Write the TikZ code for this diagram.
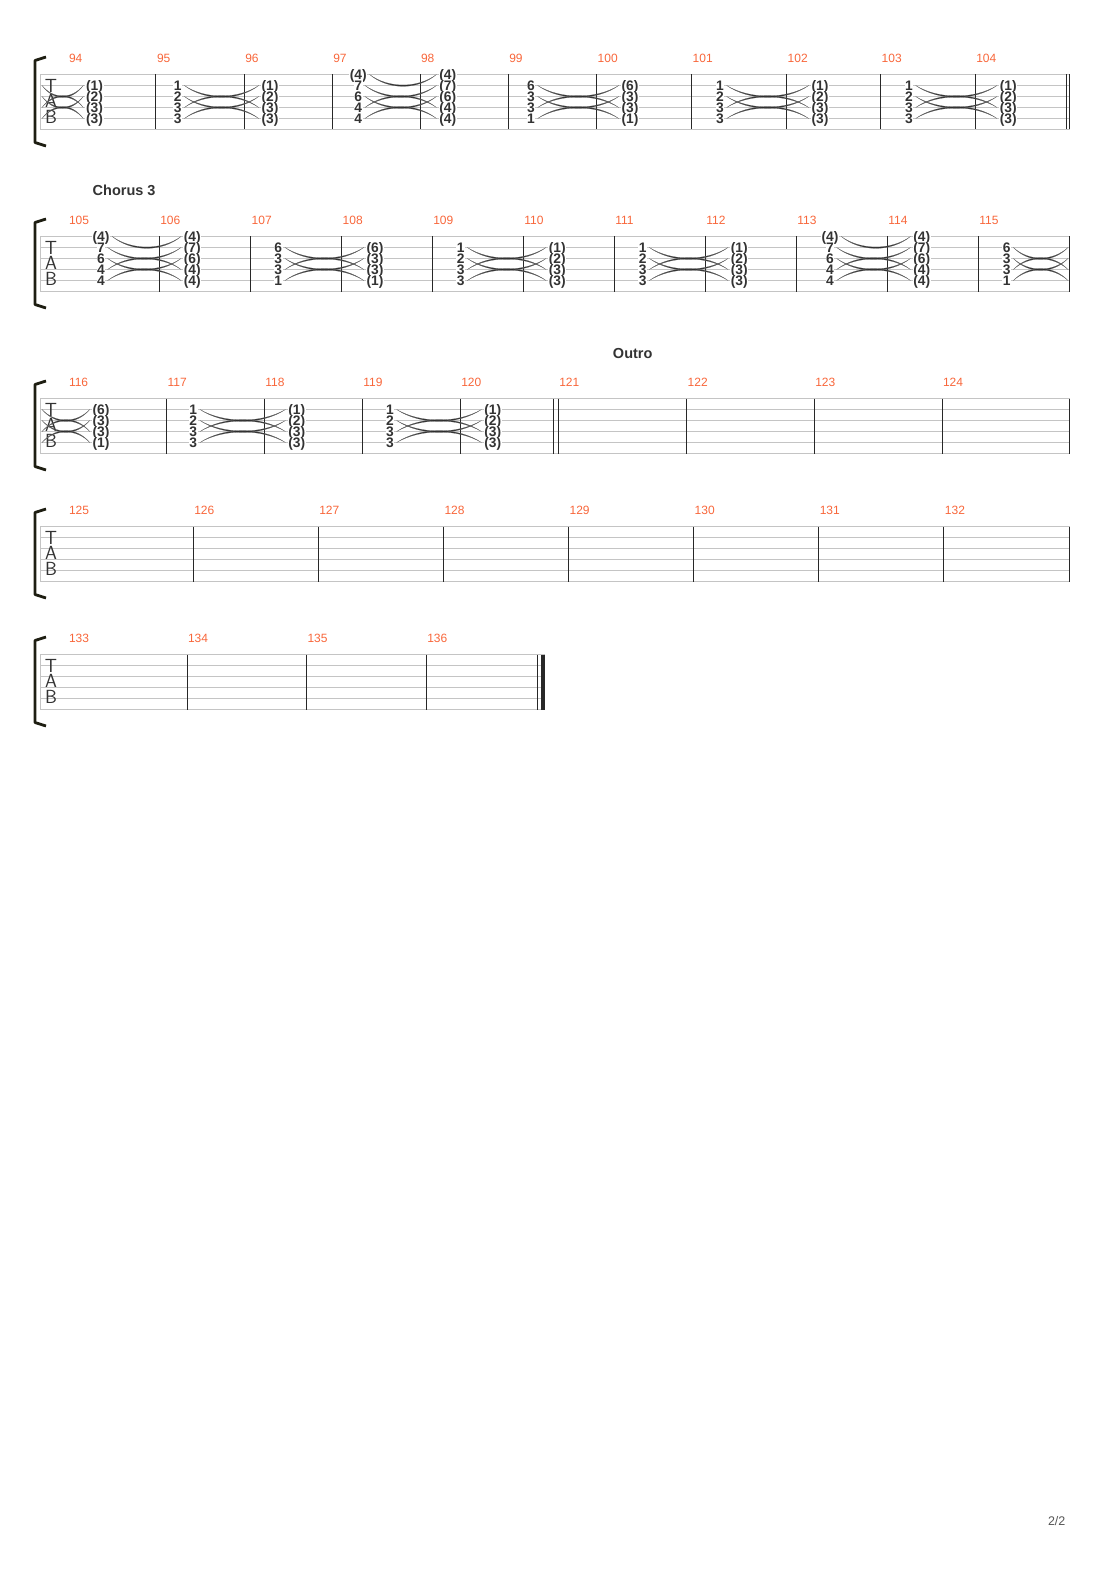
\documentclass[tikz,border=0pt]{standalone}
\usepackage{fontspec}
\setmainfont{Liberation Sans}
\usetikzlibrary{calc}

\definecolor{staffgray}{RGB}{196,196,196}
\definecolor{bardark}{RGB}{40,40,40}
\definecolor{fretdark}{RGB}{51,51,51}
\definecolor{tiedark}{RGB}{45,45,45}
\definecolor{barnumorange}{RGB}{248,102,58}
\definecolor{bracketdark}{RGB}{30,30,18}
\definecolor{pagegray}{RGB}{85,85,85}

\tikzset{
 staffline/.style={staffgray, line width=0.9pt},
 barline/.style={bardark, line width=1.1pt},
 thickbar/.style={bardark, line width=4pt},
 bracketline/.style={bracketdark, line width=2.8pt},
 fret/.style={font=\bfseries\fontsize{13.8}{13.8}\selectfont, text=fretdark, fill=white,
   inner xsep=0.6pt, inner ysep=0.2pt, text height=9.8pt, text depth=0pt},
 barnum/.style={font=\fontsize{12}{12}\selectfont, text=barnumorange, anchor=base west, inner sep=0pt},
 tablabel/.style={font=\sffamily\fontsize{19}{19}\selectfont, text=fretdark, inner sep=0pt,
   text height=12.6pt, text depth=0pt},
 sectionlabel/.style={font=\bfseries\fontsize{14.5}{14.5}\selectfont, text=fretdark, inner sep=0pt},
 tiefill/.style={fill=tiedark, draw=tiedark!70, line width=0.2pt},
}

% tie from #1 to #2, bent by #3 (positive = down)
\newcommand{\tabtie}[3]{%
 \path ($(#1)+(2,0)$) coordinate (tA) ($(#2)+(-2,0)$) coordinate (tB);
 \filldraw[tiefill] (tA) .. controls ($(tA)!0.28!(tB)+(0,#3)$) and ($(tA)!0.72!(tB)+(0,#3)$) .. (tB)
  .. controls ($(tA)!0.72!(tB)+(0,#3*1.13)$) and ($(tA)!0.28!(tB)+(0,#3*1.13)$) .. (tA) -- cycle;}

\begin{document}
\begin{tikzpicture}[x=1pt, y=-1pt]
\useasboundingbox (0,0) rectangle (1110,1570);

% staves
\foreach \top/\rx [count=\i] in {74.5/1070, 236.5/1070, 398.5/1070, 526.5/1070, 654.5/545} {
 \foreach \k in {0,...,5} \draw[staffline] (40,\top+11*\k) -- (\rx,\top+11*\k);
 \draw[staffline] (40,\top) -- (40,\top+55);
 \draw[bracketline, line join=round] (46,\top-17.5) .. controls (40,\top-15.5) .. (35,\top-14)
   -- (35,\top+68) .. controls (40,\top+69.5) .. (46,\top+71.5);
 \node[tablabel] (clefT\i) at (51,\top+11.5) {T};
 \node[tablabel] (clefA\i) at (51,\top+27) {A};
 \node[tablabel] (clefB\i) at (51,\top+42.5) {B};
}

% system 1
\foreach \bx in {155.5, 244.5, 332.5, 420.5, 508.5, 596.5, 691.5, 786.5, 880.5, 975.5, 1066.5, 1069.5}
 \draw[barline] (\bx,74.5) -- (\bx,129.5);
\foreach \m/\bx in {94/68, 95/156, 96/244.3, 97/332.3, 98/420, 99/508.3, 100/596.7,
  101/691.7, 102/786.7, 103/880.7, 104/975.3}
 \node[barnum] (bn\m) at (\bx+0.8,62.2) {\m};
\foreach \m/\x/\st/\f in {94/94.5/2/{(1),(2),(3),(3)}, 95/177.7/2/{1,2,3,3},
  96/270/2/{(1),(2),(3),(3)}, 97/358.3/1/{(4),7,6,4,4}, 98/447.7/1/{(4),(7),(6),(4),(4)},
  99/531/2/{6,3,3,1}, 100/630/2/{(6),(3),(3),(1)}, 101/720/2/{1,2,3,3},
  102/820/2/{(1),(2),(3),(3)}, 103/909/2/{1,2,3,3}, 104/1008.3/2/{(1),(2),(3),(3)}}
 \foreach \n [count=\k from \st] in \f
  \node[fret] (n\m-\k) at (\x,74.5+11*\k-11) {\n};
\foreach \k in {2,...,5} {
 \pgfmathsetmacro\bd{\k<4 ? 14 : -14}
 \coordinate (in94-\k) at (40,74.5+11*\k-11);
 \tabtie{in94-\k}{n94-\k.west}{\bd}
}
\foreach \a/\b/\st in {95/96/2, 97/98/1, 99/100/2, 101/102/2, 103/104/2}
 \foreach \k in {\st,...,5} {
  \pgfmathsetmacro\bd{\k<4 ? 14 : -14}
  \tabtie{n\a-\k.east}{n\b-\k.west}{\bd}
 }

% system 2
\node[sectionlabel, anchor=base west] (chorus) at (92.5,196) {Chorus 3};
\foreach \bx in {159.5, 250.5, 341.5, 432.5, 523.5, 614.5, 705.5, 796.5, 887.5, 978.5, 1069.5}
 \draw[barline] (\bx,236.5) -- (\bx,291.5);
\foreach \m/\bx in {105/68, 106/159.3, 107/250.7, 108/341.7, 109/432.3, 110/523.3,
  111/614.3, 112/705.3, 113/796.3, 114/887.3, 115/978.3}
 \node[barnum] (bn\m) at (\bx+0.8,224.2) {\m};
\foreach \m/\x/\st/\f in {105/101/1/{(4),7,6,4,4}, 106/192.3/1/{(4),(7),(6),(4),(4)},
  107/278.3/2/{6,3,3,1}, 108/375/2/{(6),(3),(3),(1)}, 109/460.7/2/{1,2,3,3},
  110/557.3/2/{(1),(2),(3),(3)}, 111/642.7/2/{1,2,3,3}, 112/739.3/2/{(1),(2),(3),(3)},
  113/830/1/{(4),7,6,4,4}, 114/921.7/1/{(4),(7),(6),(4),(4)}, 115/1006.7/2/{6,3,3,1}}
 \foreach \n [count=\k from \st] in \f
  \node[fret] (n\m-\k) at (\x,236.5+11*\k-11) {\n};
\foreach \a/\b/\st in {105/106/1, 107/108/2, 109/110/2, 111/112/2, 113/114/1}
 \foreach \k in {\st,...,5} {
  \pgfmathsetmacro\bd{\k<4 ? 14 : -14}
  \tabtie{n\a-\k.east}{n\b-\k.west}{\bd}
 }
\foreach \k in {2,...,5} {
 \pgfmathsetmacro\bd{\k<4 ? 14 : -14}
 \coordinate (out115-\k) at (1070,236.5+11*\k-11);
 \tabtie{n115-\k.east}{out115-\k}{\bd}
}

% system 3
\node[sectionlabel, anchor=base] (outro) at (632.7,358.3) {Outro};
\foreach \bx in {166.5, 264.5, 362.5, 460.5, 553.5, 558.5, 686.5, 814.5, 942.5, 1069.5}
 \draw[barline] (\bx,398.5) -- (\bx,453.5);
\foreach \m/\bx in {116/68, 117/166.7, 118/264.3, 119/362.3, 120/460.3, 121/558.3,
  122/686.7, 123/814.3, 124/942}
 \node[barnum] (bn\m) at (\bx+0.8,386.7) {\m};
\foreach \m/\x/\st/\f in {116/101/2/{(6),(3),(3),(1)}, 117/193.3/2/{1,2,3,3},
  118/296.7/2/{(1),(2),(3),(3)}, 119/390/2/{1,2,3,3}, 120/492.7/2/{(1),(2),(3),(3)}}
 \foreach \n [count=\k from \st] in \f
  \node[fret] (n\m-\k) at (\x,398.5+11*\k-11) {\n};
\foreach \k in {2,...,5} {
 \pgfmathsetmacro\bd{\k<4 ? 14 : -14}
 \coordinate (in116-\k) at (40,398.5+11*\k-11);
 \tabtie{in116-\k}{n116-\k.west}{\bd}
}
\foreach \a/\b in {117/118, 119/120}
 \foreach \k in {2,...,5} {
  \pgfmathsetmacro\bd{\k<4 ? 14 : -14}
  \tabtie{n\a-\k.east}{n\b-\k.west}{\bd}
 }

% system 4
\foreach \bx in {193.5, 318.5, 443.5, 568.5, 693.5, 818.5, 943.5, 1069.5}
 \draw[barline] (\bx,526.5) -- (\bx,581.5);
\foreach \m/\bx in {125/68, 126/193.3, 127/318.3, 128/443.5, 129/568.6, 130/693.7,
  131/818.8, 132/943.9}
 \node[barnum] (bn\m) at (\bx+0.8,514.2) {\m};

% system 5
\foreach \bx in {187.5, 306.5, 426.5, 537.5}
 \draw[barline] (\bx,654.5) -- (\bx,709.5);
\draw[thickbar] (543,654.5) -- (543,709.5);
\foreach \m/\bx in {133/68, 134/187, 135/306.5, 136/426.3}
 \node[barnum] (bn\m) at (\bx+0.8,642.2) {\m};

\node[font=\fontsize{12.5}{12.5}\selectfont, text=pagegray, anchor=base, inner sep=0pt] (pagenum)
 at (1056.7,1525) {2/2};
\end{tikzpicture}
\end{document}
